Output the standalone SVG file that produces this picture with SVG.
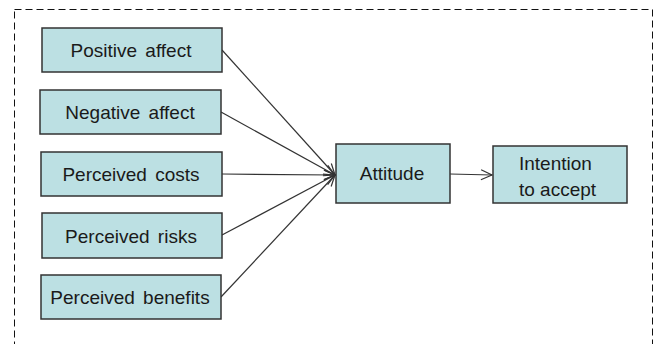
<svg xmlns="http://www.w3.org/2000/svg" width="657" height="344" viewBox="0 0 657 344">
<style>
.box{fill:#bce0e3;stroke:#333;stroke-width:1.5}
.t{font-family:"Liberation Sans",Arial,sans-serif;font-size:19px;fill:#1a1a1a;text-anchor:middle;word-spacing:3px}
.tl{font-family:"Liberation Sans",Arial,sans-serif;font-size:19px;fill:#1a1a1a}
.c{stroke:#333;stroke-width:1.2;fill:none;marker-end:url(#ah)}
</style>
<defs>
<marker id="ah" markerWidth="14" markerHeight="12" refX="12" refY="6" orient="auto" markerUnits="userSpaceOnUse">
<path d="M1,1 L12,6 L1,11" fill="none" stroke="#333" stroke-width="1.2"/>
</marker>
</defs>
<rect x="14.5" y="9.5" width="638" height="340" fill="#fff" stroke="#111" stroke-width="1" stroke-dasharray="7,4"/>
<g id="connectors">
<line class="c" x1="222" y1="50" x2="335" y2="175"/>
<line class="c" x1="221" y1="112" x2="335" y2="175"/>
<line class="c" x1="222" y1="174" x2="335" y2="175"/>
<line class="c" x1="222" y1="235" x2="335" y2="175"/>
<line class="c" x1="221" y1="297" x2="335" y2="175"/>
<line class="c" x1="450" y1="174" x2="492" y2="175"/>
</g>
<g id="positive"><rect class="box" x="42" y="28" width="180" height="44"/><text class="t" x="131" y="57">Positive affect</text></g>
<g id="negative"><rect class="box" x="40" y="90" width="181" height="44"/><text class="t" x="130" y="119">Negative affect</text></g>
<g id="costs"><rect class="box" x="41" y="152" width="181" height="44"/><text class="t" x="131" y="181">Perceived costs</text></g>
<g id="risks"><rect class="box" x="42" y="213" width="180" height="45"/><text class="t" x="131" y="243">Perceived risks</text></g>
<g id="benefits"><rect class="box" x="41" y="275" width="180" height="44"/><text class="t" x="130" y="304">Perceived benefits</text></g>
<g id="attitude"><rect class="box" x="336" y="144" width="114" height="59"/><text class="t" x="392" y="180">Attitude</text></g>
<g id="intention"><rect class="box" x="493" y="146" width="134" height="57"/><text class="tl" x="519" y="170">Intention</text><text class="tl" x="519" y="196">to accept</text></g>
</svg>
